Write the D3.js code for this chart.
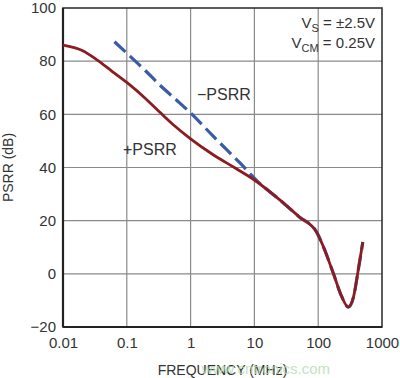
<!DOCTYPE html>
<html><head><meta charset="utf-8">
<script src="https://cdn.jsdelivr.net/npm/d3@7"></script>
<style>body{margin:0;background:#fff}svg{display:block}text{font-family:"Liberation Sans",Arial,sans-serif;fill:#333}</style>
</head><body><svg id="c" width="400" height="378"></svg>
<script>
const xTicks = [0.01, 0.1, 1, 10, 100, 1000];
const xTickLabels = ["0.01", "0.1", "1", "10", "100", "1000"];
const yTicks = [-20, 0, 20, 40, 60, 80, 100];
const yTickLabels = ["\u221220", "0", "20", "40", "60", "80", "100"];

const plusFreq = [0.01, 0.02, 0.034, 0.06, 0.1, 0.2, 0.33, 0.53, 1, 2.2, 5, 10, 25, 50, 95, 120, 172, 233, 296, 355, 425, 500];
const plusPSRR = [86, 84, 80.5, 76, 72, 65.8, 60.8, 56.2, 50.8, 45, 39.8, 35.3, 27.8, 21.5, 15.6, 10.3, 0.3, -8.5, -12.5, -9, 1.5, 12];

const minusFreq = [0.064, 0.1, 0.2, 0.33, 0.6, 1, 2.3, 6, 11, 25, 50, 95, 120, 172, 233, 296, 355, 425, 500];
const minusPSRR = [87.3, 83, 76.2, 71, 65.4, 60.5, 51.6, 41.6, 35, 27.8, 21.5, 15.6, 10.3, 0.3, -8.5, -12.5, -9, 1.5, 12];

const svg = d3.select("#c");
const L = 63, R = 382, T = 8, B = 327;
const x = d3.scaleLog().domain([0.01, 1000]).range([L, R]);
const y = d3.scaleLinear().domain([-20, 100]).range([B, T]);

// grid
const g = svg.append("g");
g.selectAll("line.vx").data(xTicks.slice(1, -1)).enter().append("line")
  .attr("x1", d => x(d)).attr("x2", d => x(d)).attr("y1", T).attr("y2", B)
  .attr("stroke", "#8a8a8a").attr("stroke-width", 1.2);
g.selectAll("line.hy").data(yTicks.slice(1, -1)).enter().append("line")
  .attr("y1", d => y(d)).attr("y2", d => y(d)).attr("x1", L).attr("x2", R)
  .attr("stroke", "#8a8a8a").attr("stroke-width", 1.2);

// axes via d3
const xAxis = d3.axisBottom(x).tickValues(xTicks).tickFormat((d, i) => xTickLabels[i]).tickSize(0).tickPadding(10);
const yAxis = d3.axisLeft(y).tickValues(yTicks).tickFormat((d, i) => yTickLabels[i]).tickSize(0).tickPadding(7);
const gx = svg.append("g").attr("transform", `translate(0,${B})`).call(xAxis);
const gy = svg.append("g").attr("transform", `translate(${L},0)`).call(yAxis);
[gx, gy].forEach(a => { a.select(".domain").remove(); a.selectAll("text").style("font-size", "15px").style("fill", "#333").style("font-family", "'Liberation Sans',Arial,sans-serif"); });

// frame
svg.append("rect").attr("x", L).attr("y", T).attr("width", R - L).attr("height", B - T)
  .attr("fill", "none").attr("stroke", "#333").attr("stroke-width", 1.6);
svg.append("line").attr("x1", L).attr("x2", L).attr("y1", T).attr("y2", B).attr("stroke", "#222").attr("stroke-width", 2.2);
svg.append("line").attr("x1", L).attr("x2", R).attr("y1", B).attr("y2", B).attr("stroke", "#222").attr("stroke-width", 2.2);

// curves
const line = d3.line().x(d => x(d[0])).y(d => y(d[1])).curve(d3.curveMonotoneX);
const minusData = minusFreq.map((f, i) => [f, minusPSRR[i]]);
const plusData = plusFreq.map((f, i) => [f, plusPSRR[i]]);
svg.append("path").attr("d", line(minusData)).attr("fill", "none")
  .attr("stroke", "#3a5ba8").attr("stroke-width", 3.2).attr("stroke-dasharray", "15,6");
svg.append("path").attr("d", line(plusData)).attr("fill", "none")
  .attr("stroke", "#8b1c22").attr("stroke-width", 2.8).attr("stroke-linejoin", "round");

// labels
svg.append("text").attr("x", 197).attr("y", 100).style("font-size", "16px").text("\u2212PSRR");
svg.append("text").attr("x", 123).attr("y", 155).style("font-size", "16px").text("+PSRR");

const ann = svg.append("g").style("font-size", "15px");
const t1 = ann.append("text").attr("x", 375).attr("y", 28).attr("text-anchor", "end");
t1.append("tspan").text("V");
t1.append("tspan").attr("dy", 4).style("font-size", "11px").text("S");
t1.append("tspan").attr("dy", -4).text(" = \u00B12.5V");
const t2 = ann.append("text").attr("x", 375).attr("y", 48).attr("text-anchor", "end");
t2.append("tspan").text("V");
t2.append("tspan").attr("dy", 4).style("font-size", "11px").text("CM");
t2.append("tspan").attr("dy", -4).text(" = 0.25V");

svg.append("text").attr("x", (L + R) / 2).attr("y", 375).attr("text-anchor", "middle")
  .style("font-size", "14px").text("FREQUENCY (MHz)");
svg.append("text").attr("transform", `translate(13,${(T + B) / 2}) rotate(-90)`).attr("text-anchor", "middle")
  .style("font-size", "14px").text("PSRR (dB)");
svg.append("text").attr("x", 330).attr("y", 374).attr("text-anchor", "end")
  .style("font-size", "15px").style("fill", "#b5dcb0").style("opacity", 0.8).text("www.cntronics.com");
</script></body></html>
